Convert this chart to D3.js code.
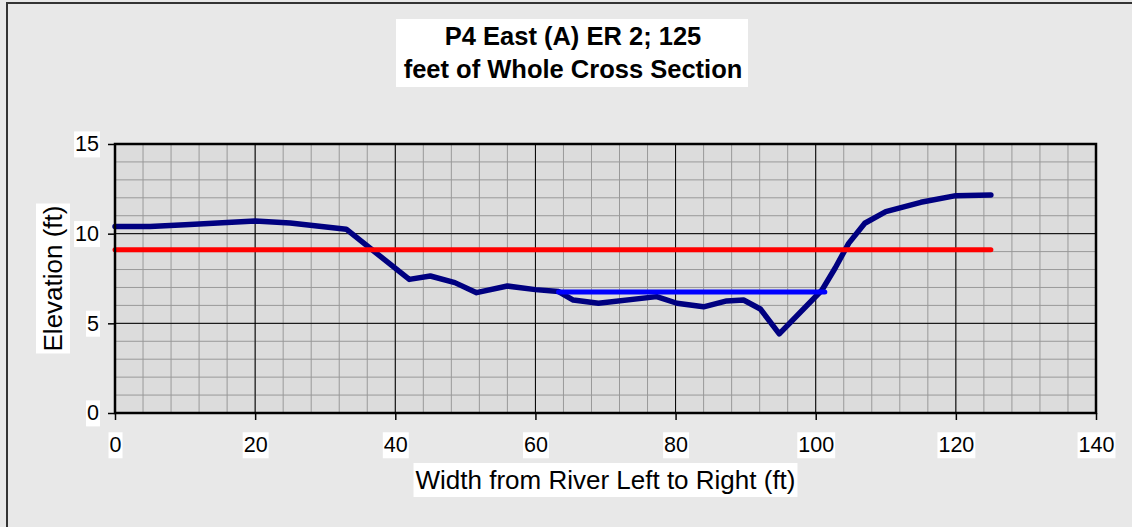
<!DOCTYPE html>
<html>
<head>
<meta charset="utf-8">
<script src="https://cdn.jsdelivr.net/npm/d3@7"></script>
<style>
  body { margin: 0; background: #e8e8e8; }
  text { font-family: "Liberation Sans", Arial, sans-serif; fill: #000; }
</style>
</head>
<body>
<svg id="chart" width="1132" height="527"></svg>
<script>
// cross section survey
var stationFt = [0, 5, 10, 20, 25, 33, 42, 45, 48.5, 51.6, 56, 60, 63.3, 65.4, 69, 77.3,
                 80.2, 84, 87.3, 89.7, 92.1, 94.8, 100.9, 102.8, 104.7, 107, 110, 115, 120, 125];
var elevFt = [10.4, 10.4, 10.5, 10.7, 10.6, 10.25, 7.45, 7.64, 7.27, 6.71, 7.08, 6.88, 6.77, 6.3, 6.12, 6.49,
              6.12, 5.92, 6.25, 6.3, 5.8, 4.41, 6.86, 8.1, 9.46, 10.58, 11.23, 11.75, 12.12, 12.16];
// bankfull (red) and water surface (blue)
var bankfullX = [0, 125];
var bankfullY = [9.1, 9.1];
var waterX = [63.3, 101.3];
var waterY = [6.75, 6.75];

var xTicks = [0, 20, 40, 60, 80, 100, 120, 140];
var yTicks = [0, 5, 10, 15];
var titleLines = ["P4 East (A) ER 2; 125", "feet of Whole Cross Section"];
var xTitle = "Width from River Left to Right (ft)";
var yTitle = "Elevation (ft)";

var svg = d3.select("#chart");

// outer chart frame (only left/top edges show)
svg.append("rect")
    .attr("x", 7).attr("y", 3)
    .attr("width", 1150).attr("height", 540)
    .attr("fill", "#e8e8e8")
    .attr("stroke", "#333").attr("stroke-width", 2);

var x = d3.scaleLinear().domain([0, 140]).range([115, 1096]);
var y = d3.scaleLinear().domain([0, 15]).range([413, 144]);

svg.append("rect")
    .attr("x", x(0)).attr("y", y(15))
    .attr("width", x(140) - x(0)).attr("height", y(0) - y(15))
    .attr("fill", "#dcdcdc");

// minor grid
var grid = svg.append("g");
grid.selectAll(".vminor")
    .data(d3.range(4, 140, 4))
    .enter().append("line")
    .attr("x1", function(d) { return x(d); }).attr("x2", function(d) { return x(d); })
    .attr("y1", y(0)).attr("y2", y(15))
    .attr("stroke", "#999").attr("stroke-width", 1);
grid.selectAll(".hminor")
    .data(d3.range(1, 15))
    .enter().append("line")
    .attr("y1", function(d) { return y(d); }).attr("y2", function(d) { return y(d); })
    .attr("x1", x(0)).attr("x2", x(140))
    .attr("stroke", "#999").attr("stroke-width", 1);
// major grid
grid.selectAll(".vmajor")
    .data(xTicks)
    .enter().append("line")
    .attr("x1", function(d) { return x(d); }).attr("x2", function(d) { return x(d); })
    .attr("y1", y(0)).attr("y2", y(15))
    .attr("stroke", "#000").attr("stroke-width", 1);
grid.selectAll(".hmajor")
    .data(yTicks)
    .enter().append("line")
    .attr("y1", function(d) { return y(d); }).attr("y2", function(d) { return y(d); })
    .attr("x1", x(0)).attr("x2", x(140))
    .attr("stroke", "#000").attr("stroke-width", 1);

var line = d3.line()
    .x(function(d) { return x(d[0]); })
    .y(function(d) { return y(d[1]); });

svg.append("path")
    .datum(d3.zip(stationFt, elevFt))
    .attr("d", line)
    .attr("fill", "none").attr("stroke", "#000080")
    .attr("stroke-width", 5.5).attr("stroke-linejoin", "round").attr("stroke-linecap", "round");
svg.append("path")
    .datum(d3.zip(bankfullX, bankfullY))
    .attr("d", line)
    .attr("fill", "none").attr("stroke", "#ff0000")
    .attr("stroke-width", 5).attr("stroke-linecap", "round");
svg.append("path")
    .datum(d3.zip(waterX, waterY))
    .attr("d", line)
    .attr("fill", "none").attr("stroke", "#0000ff")
    .attr("stroke-width", 5).attr("stroke-linecap", "round");

// plot border
svg.append("rect")
    .attr("x", x(0)).attr("y", y(15))
    .attr("width", x(140) - x(0)).attr("height", y(0) - y(15))
    .attr("fill", "none").attr("stroke", "#000").attr("stroke-width", 2.5);

// put a white box behind a text node, like Excel does
function whiteBox(sel, pad) {
    sel.each(function() {
        var node = this;
        var b = node.getBBox();
        d3.select(node.parentNode).insert("rect", function() { return node; })
            .attr("x", b.x - pad).attr("y", b.y - pad)
            .attr("width", b.width + 2 * pad).attr("height", b.height + 2 * pad)
            .attr("fill", "#fff");
    });
}

// axes
var xAxis = svg.append("g")
    .attr("transform", "translate(0," + y(0) + ")")
    .call(d3.axisBottom(x).tickValues(xTicks).tickSize(7).tickPadding(17));
var yAxis = svg.append("g")
    .attr("transform", "translate(" + x(0) + ",0)")
    .call(d3.axisLeft(y).tickValues(yTicks).tickSize(7).tickPadding(9));
[xAxis, yAxis].forEach(function(a) {
    a.select(".domain").remove();
    a.selectAll("line").attr("stroke", "#000").attr("stroke-width", 1.5);
    a.selectAll("text").attr("font-size", 21.5)
        .attr("font-family", "Liberation Sans, Arial, sans-serif").attr("fill", "#000");
    whiteBox(a.selectAll("text"), 1);
});

// title
var title = svg.append("g");
title.append("rect")
    .attr("x", 396).attr("y", 19)
    .attr("width", 352).attr("height", 68)
    .attr("fill", "#fff");
title.selectAll("text")
    .data(titleLines)
    .enter().append("text")
    .attr("x", 573)
    .attr("y", function(d, i) { return 45 + i * 33; })
    .attr("text-anchor", "middle")
    .attr("font-size", 25.5).attr("font-weight", "bold")
    .text(function(d) { return d; });

// axis titles
var xt = svg.append("g");
xt.append("text")
    .attr("x", (x(0) + x(140)) / 2).attr("y", 489)
    .attr("text-anchor", "middle").attr("font-size", 26)
    .text(xTitle);
whiteBox(xt.selectAll("text"), 2);

var yt = svg.append("g")
    .attr("transform", "translate(62," + (y(0) + y(15)) / 2 + ") rotate(-90)");
yt.append("text")
    .attr("text-anchor", "middle").attr("font-size", 26)
    .text(yTitle);
whiteBox(yt.selectAll("text"), 2);
</script>
</body>
</html>
